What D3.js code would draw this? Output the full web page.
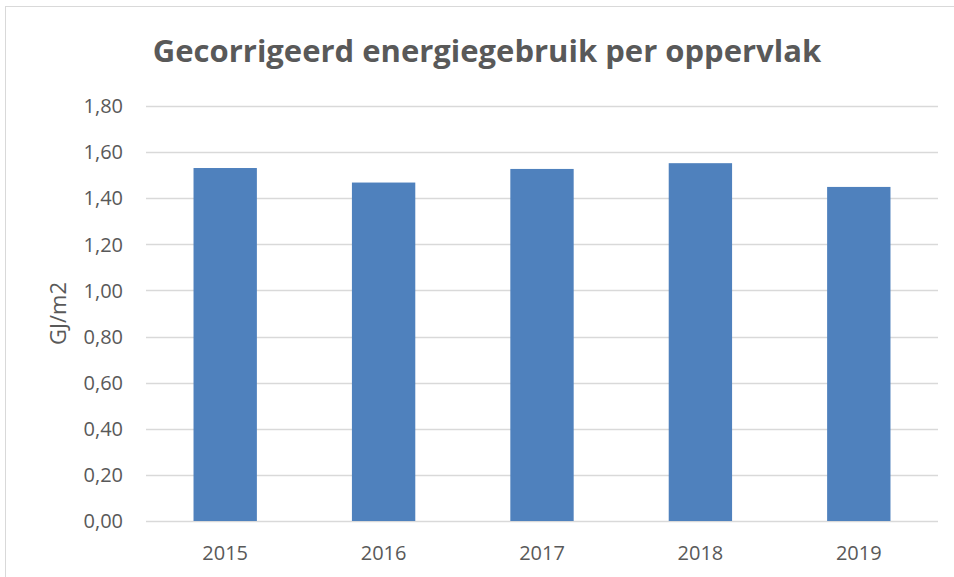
<!DOCTYPE html>
<html><head><meta charset="utf-8">
<script src="https://cdn.jsdelivr.net/npm/d3@7"></script>
<style>body{margin:0;background:#fff}svg{display:block}</style>
</head><body>
<svg id="c" width="954" height="577"></svg>
<script>
const categories = ["2015","2016","2017","2018","2019"];
const values = [1.531, 1.468, 1.527, 1.552, 1.449];
const yTicks = [0,0.2,0.4,0.6,0.8,1.0,1.2,1.4,1.6,1.8];
const title = "Gecorrigeerd energiegebruik per oppervlak";
const yLabel = "GJ/m2";

const svg = d3.select("#c");
const font = "'Open Sans', 'Noto Sans', sans-serif";
svg.append("rect").attr("x",5.5).attr("y",6.5).attr("width",960).attr("height",580)
  .attr("fill","#fff").attr("stroke","#d9d9d9").attr("stroke-width",1);

const m = {left:146, right:938, top:106, bottom:521};
const x = d3.scaleBand().domain(categories).range([m.left,m.right]).paddingInner(0.6).paddingOuter(0.3);
const y = d3.scaleLinear().domain([0,1.8]).range([m.bottom,m.top]);
const fmt = v => d3.format(".2f")(v).replace(".",",");

svg.append("g").selectAll("line").data(yTicks).join("line")
  .attr("x1",m.left).attr("x2",m.right)
  .attr("y1",d=>Math.round(y(d))+0.5).attr("y2",d=>Math.round(y(d))+0.5)
  .attr("stroke","#d9d9d9").attr("stroke-width",1.3);

svg.append("g").selectAll("rect").data(values).join("rect")
  .attr("x",(d,i)=>x(categories[i])).attr("width",x.bandwidth())
  .attr("y",d=>y(d)).attr("height",d=>y(0)-y(d))
  .attr("fill","#4F81BD");

svg.append("g").selectAll("text").data(yTicks).join("text")
  .attr("x",123).attr("y",d=>y(d)).attr("dy","0.36em")
  .attr("text-anchor","end").attr("font-family",font).attr("font-size",20)
  .attr("fill","#595959").text(fmt);

svg.append("g").selectAll("text").data(categories).join("text")
  .attr("x",d=>x(d)+x.bandwidth()/2).attr("y",560)
  .attr("text-anchor","middle").attr("font-family",font).attr("font-size",20)
  .attr("fill","#595959").text(d=>d);

svg.append("text").attr("transform","translate(58,313.5) rotate(-90)")
  .attr("text-anchor","middle").attr("dy","0.36em").attr("font-family",font).attr("font-size",22)
  .attr("fill","#595959").text(yLabel);

svg.append("text").attr("x",487).attr("y",62).attr("text-anchor","middle")
  .attr("font-family",font).attr("font-size",31).attr("font-weight","bold")
  .attr("fill","#595959").text(title);
</script>
</body></html>
